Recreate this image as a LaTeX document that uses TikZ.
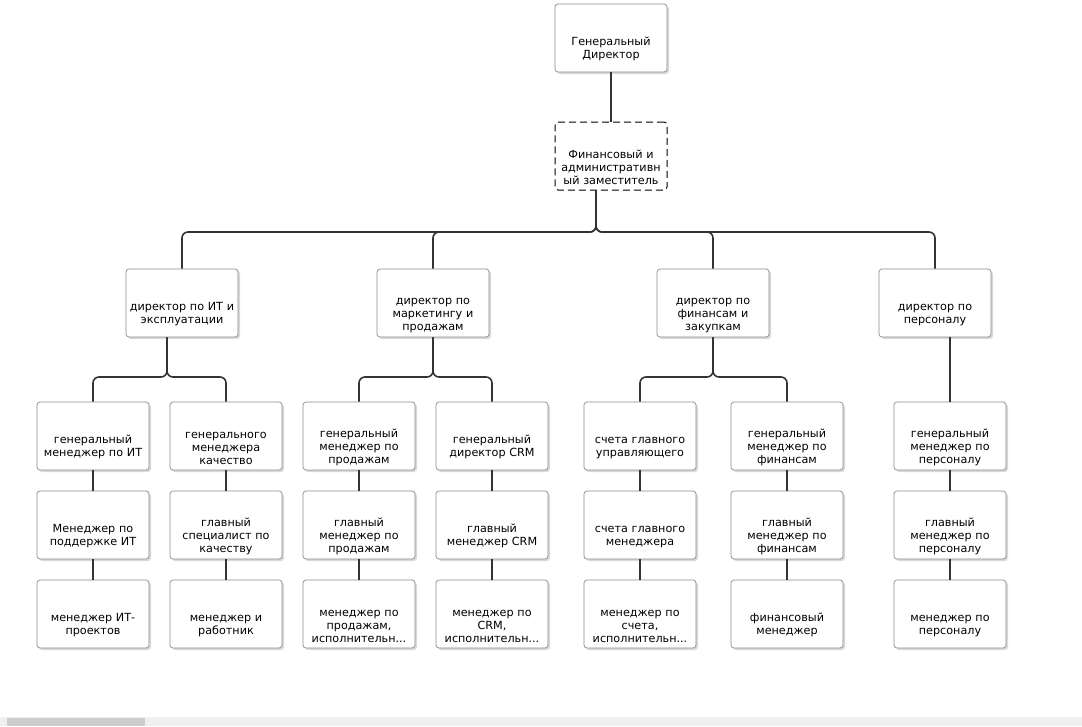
\documentclass[tikz,border=0pt]{standalone}
\usepackage{fontspec}
\setmainfont{DejaVu Sans}
\usetikzlibrary{shadows}

\tikzset{
  card/.style={rectangle, line width=0.7pt, fill=white, rounded corners=3pt,
               minimum width=110pt, minimum height=68pt, text width=108pt, align=center,
               inner sep=2pt, font=\fontsize{11.2}{13.3}\selectfont,
               execute at begin node={\rule{0pt}{31pt}}},
  box/.style={card, draw=gray!90,
              drop shadow={shadow xshift=2pt, shadow yshift=-2pt, fill=black!25, opacity=0.6}},
  deputy/.style={card, draw=black, line width=1pt, dash pattern=on 7pt off 4pt},
  link/.style={draw=black!80, line width=1.6pt, rounded corners=6pt},
}

\begin{document}
\begin{tikzpicture}[x=1pt, y=-1pt]
    \useasboundingbox (0,0) rectangle (1082,726);
    %tikz orgchart
    \node[box](gd) at (611,38) {Генеральный\\Директор};
    \node[deputy](fz) at (611,156) {Финансовый и\\административн\\ый заместитель};
    \node[box](dit) at (182,303) {директор по ИТ и\\эксплуатации};
    \node[box](dmk) at (433,303) {директор по\\маркетингу и\\продажам};
    \node[box](dfin) at (713,303) {директор по\\финансам и\\закупкам};
    \node[box](dper) at (935,303) {директор по\\персоналу};

    \node[box](it1) at (93,436) {генеральный\\менеджер по ИТ};
    \node[box](it2) at (93,525) {Менеджер по\\поддержке ИТ};
    \node[box](it3) at (93,614) {менеджер ИТ-\\проектов};
    \node[box](q1) at (226,436) {генерального\\менеджера\\качество};
    \node[box](q2) at (226,525) {главный\\специалист по\\качеству};
    \node[box](q3) at (226,614) {менеджер и\\работник};
    \node[box](s1) at (359,436) {генеральный\\менеджер по\\продажам};
    \node[box](s2) at (359,525) {главный\\менеджер по\\продажам};
    \node[box](s3) at (359,614) {менеджер по\\продажам,\\исполнительн...};
    \node[box](crm1) at (492,436) {генеральный\\директор CRM};
    \node[box](crm2) at (492,525) {главный\\менеджер CRM};
    \node[box](crm3) at (492,614) {менеджер по\\CRM,\\исполнительн...};
    \node[box](acc1) at (640,436) {счета главного\\управляющего};
    \node[box](acc2) at (640,525) {счета главного\\менеджера};
    \node[box](acc3) at (640,614) {менеджер по\\счета,\\исполнительн...};
    \node[box](fin1) at (787,436) {генеральный\\менеджер по\\финансам};
    \node[box](fin2) at (787,525) {главный\\менеджер по\\финансам};
    \node[box](fin3) at (787,614) {финансовый\\менеджер};
    \node[box](hr1) at (950,436) {генеральный\\менеджер по\\персоналу};
    \node[box](hr2) at (950,525) {главный\\менеджер по\\персоналу};
    \node[box](hr3) at (950,614) {менеджер по\\персоналу};

    \coordinate (lvl2) at (0,232);
    \coordinate (lvl3) at (0,377);
    \coordinate (fzo) at ([xshift=-15pt]fz.south);
    \coordinate (dito) at ([xshift=-15pt]dit.south);
    \coordinate (dpero) at ([xshift=15pt]dper.south);

    \draw[link] (gd) -- (fz);
    \draw[link] (fzo) -- (fzo |- lvl2) -| (dit.north);
    \draw[link] (fzo) -- (fzo |- lvl2) -| (dmk.north);
    \draw[link] (fzo) -- (fzo |- lvl2) -| (dfin.north);
    \draw[link] (fzo) -- (fzo |- lvl2) -| (dper.north);

    \draw[link] (dito) -- (dito |- lvl3) -| (it1.north);
    \draw[link] (dito) -- (dito |- lvl3) -| (q1.north);
    \draw[link] (dmk.south) -- (dmk.south |- lvl3) -| (s1.north);
    \draw[link] (dmk.south) -- (dmk.south |- lvl3) -| (crm1.north);
    \draw[link] (dfin.south) -- (dfin.south |- lvl3) -| (acc1.north);
    \draw[link] (dfin.south) -- (dfin.south |- lvl3) -| (fin1.north);
    \draw[link] (dpero) -- (hr1.north);

    \draw[link] (it1) -- (it2) (it2) -- (it3);
    \draw[link] (q1) -- (q2) (q2) -- (q3);
    \draw[link] (s1) -- (s2) (s2) -- (s3);
    \draw[link] (crm1) -- (crm2) (crm2) -- (crm3);
    \draw[link] (acc1) -- (acc2) (acc2) -- (acc3);
    \draw[link] (fin1) -- (fin2) (fin2) -- (fin3);
    \draw[link] (hr1) -- (hr2) (hr2) -- (hr3);

    % scroll bar
    \fill[gray!12] (0,717) rectangle (1082,726);
    \fill[gray!40] (7,718) rectangle (145,726);
\end{tikzpicture}
\end{document}
